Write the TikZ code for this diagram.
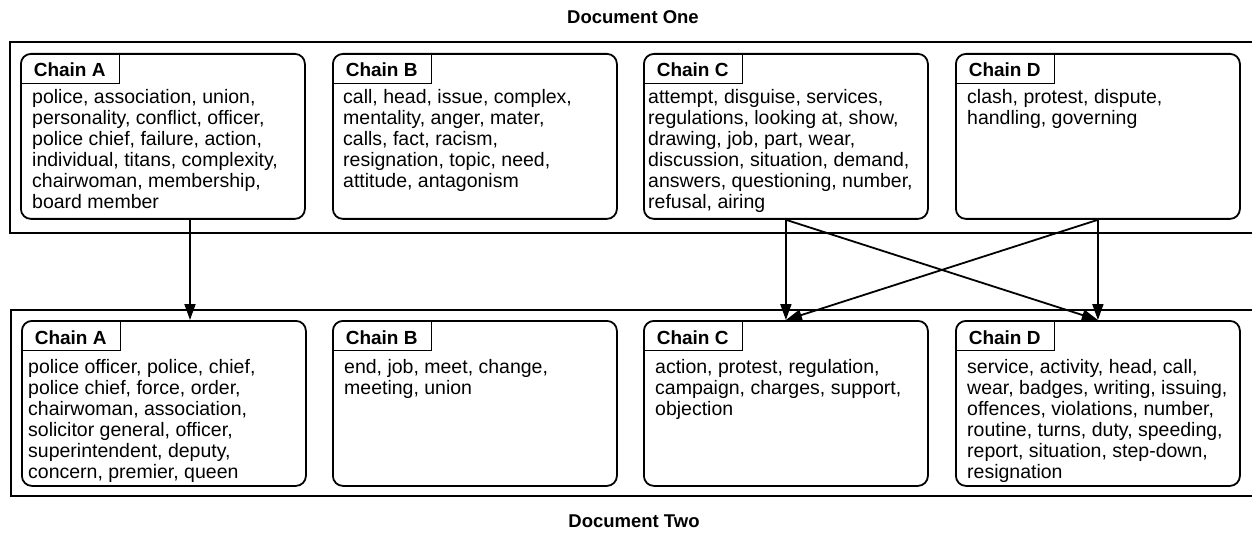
\documentclass[tikz,border=0pt]{standalone}
\usepackage{fontspec}
\setmainfont{Liberation Sans}
\usetikzlibrary{arrows.meta,calc}
\begin{document}
\begin{tikzpicture}[x=1pt,y=-1pt,
  chainbox/.style={draw,line width=1.8pt,rounded corners=10pt,minimum width=284pt,minimum height=165pt,anchor=north west,inner sep=0pt},
  tabbox/.style={anchor=north west,minimum width=99pt,minimum height=30pt,inner sep=0pt},
  tabline/.style={line width=1.4pt},
  head/.style={anchor=base,inner sep=0pt,font=\bfseries\fontsize{19}{21}\selectfont},
  body/.style={anchor=north west,align=left,inner sep=0pt,font=\fontsize{19.5}{21}\selectfont},
  doc/.style={anchor=base,inner sep=0pt,font=\bfseries\fontsize{18.5}{20}\selectfont},
  frame/.style={line width=2.4pt},
  link/.style={line width=1.8pt,-{Triangle[length=16pt,width=11pt]}}
]
\useasboundingbox (0,0) rectangle (1252,537);
\newcommand{\st}{\rule{0pt}{15pt}}

% titles
\node[doc] (d1) at (633,24) {Document One};
\node[doc] (d2) at (634,527) {Document Two};

% frames
\draw[frame] (1252,42) -- (10,42) -- (10,233) -- (1252,233);
\draw[frame] (1252,310) -- (11,310) -- (11,496) -- (1252,496);

% ---------- Document One ----------
\node[chainbox] (tA) at (20,53) {};
\node[tabbox] (tAh) at (20,53) {};
\draw[tabline] (tAh.north east) -- (tAh.south east) -- (tAh.south west);
\node[head] (tAt) at ($(tAh.north)+(0,24)$) {Chain A};
\node[body] (tAb) at (32,88) {\st police, association, union,\\personality, conflict, officer,\\police chief, failure, action,\\individual, titans, complexity,\\chairwoman, membership,\\board member};

\node[chainbox] (tB) at (332,53) {};
\node[tabbox] (tBh) at (332,53) {};
\draw[tabline] (tBh.north east) -- (tBh.south east) -- (tBh.south west);
\node[head] (tBt) at ($(tBh.north)+(0,24)$) {Chain B};
\node[body] (tBb) at (343,88) {\st call, head, issue, complex,\\mentality, anger, mater,\\calls, fact, racism,\\resignation, topic, need,\\attitude, antagonism};

\node[chainbox] (tC) at (643,53) {};
\node[tabbox] (tCh) at (643,53) {};
\draw[tabline] (tCh.north east) -- (tCh.south east) -- (tCh.south west);
\node[head] (tCt) at ($(tCh.north)+(0,24)$) {Chain C};
\node[body] (tCb) at (648,88) {\st attempt, disguise, services,\\regulations, looking at, show,\\drawing, job, part, wear,\\discussion, situation, demand,\\answers, questioning, number,\\refusal, airing};

\node[chainbox] (tD) at (955,53) {};
\node[tabbox] (tDh) at (955,53) {};
\draw[tabline] (tDh.north east) -- (tDh.south east) -- (tDh.south west);
\node[head] (tDt) at ($(tDh.north)+(0,24)$) {Chain D};
\node[body] (tDb) at (967,88) {\st clash, protest, dispute,\\handling, governing};

% ---------- Document Two ----------
\node[chainbox] (bA) at (21,320) {};
\node[tabbox] (bAh) at (21,320) {};
\draw[tabline] (bAh.north east) -- (bAh.south east) -- (bAh.south west);
\node[head] (bAt) at ($(bAh.north)+(0,24)$) {Chain A};
\node[body] (bAb) at (28,358) {\st police officer, police, chief,\\police chief, force, order,\\chairwoman, association,\\solicitor general, officer,\\superintendent, deputy,\\concern, premier, queen};

\node[chainbox] (bB) at (332,320) {};
\node[tabbox] (bBh) at (332,320) {};
\draw[tabline] (bBh.north east) -- (bBh.south east) -- (bBh.south west);
\node[head] (bBt) at ($(bBh.north)+(0,24)$) {Chain B};
\node[body] (bBb) at (344,358) {\st end, job, meet, change,\\meeting, union};

\node[chainbox] (bC) at (643,320) {};
\node[tabbox] (bCh) at (643,320) {};
\draw[tabline] (bCh.north east) -- (bCh.south east) -- (bCh.south west);
\node[head] (bCt) at ($(bCh.north)+(0,24)$) {Chain C};
\node[body] (bCb) at (655,358) {\st action, protest, regulation,\\campaign, charges, support,\\objection};

\node[chainbox] (bD) at (955,320) {};
\node[tabbox] (bDh) at (955,320) {};
\draw[tabline] (bDh.north east) -- (bDh.south east) -- (bDh.south west);
\node[head] (bDt) at ($(bDh.north)+(0,24)$) {Chain D};
\node[body] (bDb) at (967,358) {\st service, activity, head, call,\\wear, badges, writing, issuing,\\offences, violations, number,\\routine, turns, duty, speeding,\\report, situation, step-down,\\resignation};

% ---------- links ----------
\coordinate (ax) at (190,0);
\draw[link] (tA.south -| ax) -- (bA.north -| ax);
\draw[link] (tC.south) -- (bC.north);
\draw[link] (tD.south) -- (bD.north);
\draw[link] (tC.south) -- (bD.north);
\draw[link] (tD.south) -- (bC.north);
\end{tikzpicture}
\end{document}
